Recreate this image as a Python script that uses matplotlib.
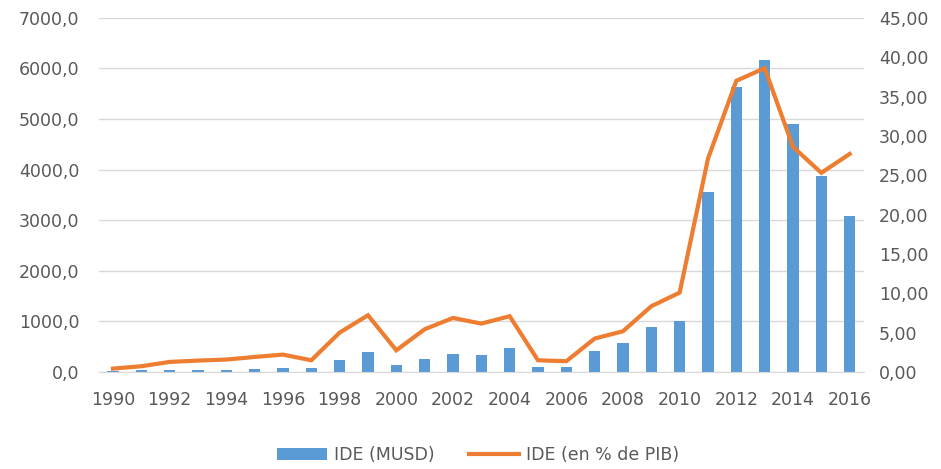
"""IDE en MUSD (barres) et en % du PIB (courbe), 1990-2016."""

import matplotlib
matplotlib.use("Agg")
import matplotlib.pyplot as plt
from matplotlib.ticker import FuncFormatter
from matplotlib.patches import Patch
from matplotlib.lines import Line2D
import numpy as np

years = list(range(1990, 2017))
ide_musd = [
    20, 33, 30, 30, 30, 50, 80, 80, 230, 388,
    132, 257, 362, 329, 480, 99, 99, 408, 579, 888,
    1007, 3566, 5638, 6164, 4901, 3868, 3086,
]
ide_pct_pib = [
    0.42, 0.72, 1.27, 1.44, 1.57, 1.90, 2.20, 1.48, 5.00, 7.20,
    2.75, 5.42, 6.86, 6.14, 7.08, 1.48, 1.36, 4.24, 5.17, 8.35,
    10.08, 27.1, 37.0, 38.6, 28.6, 25.3, 27.7,
]

BLUE = "#5B9BD5"
ORANGE = "#ED7D31"
GREY_TEXT = "#595959"
GRID = "#D9D9D9"

plt.rcParams.update({"font.family": "DejaVu Sans", "font.size": 12})

fig = plt.figure(figsize=(9.41, 4.69), dpi=100)
ax = fig.add_axes([0.105, 0.207, 0.813, 0.755])
x = np.arange(len(years))

ax.bar(x, ide_musd, width=0.4, color=BLUE, zorder=2)
ax.set_xlim(-0.5, len(years) - 0.5)
ax.set_ylim(0, 7000)
ax.set_yticks(np.arange(0, 7001, 1000))
ax.yaxis.set_major_formatter(FuncFormatter(lambda v, _: f"{v:.1f}".replace(".", ",")))
ax.set_xticks(x[::2])
ax.set_xticklabels([str(y) for y in years[::2]])
ax.grid(axis="y", color=GRID, linewidth=1, zorder=0)
ax.set_axisbelow(True)
for side in ["top", "left", "right"]:
    ax.spines[side].set_visible(False)
ax.spines["bottom"].set_color(GRID)
ax.tick_params(length=0, colors=GREY_TEXT, labelsize=12.5)
ax.tick_params(axis="x", pad=14)
ax.tick_params(axis="y", pad=14)

ax2 = ax.twinx()
ax2.plot(x, ide_pct_pib, color=ORANGE, linewidth=3, solid_joinstyle="miter", zorder=3)
ax2.set_ylim(0, 45)
ax2.set_yticks(np.arange(0, 46, 5))
ax2.yaxis.set_major_formatter(FuncFormatter(lambda v, _: f"{v:.2f}".replace(".", ",")))
for side in ["top", "left", "right", "bottom"]:
    ax2.spines[side].set_visible(False)
ax2.tick_params(length=0, colors=GREY_TEXT, labelsize=12.5, pad=11)

handles = [
    Patch(facecolor=BLUE, label="IDE (MUSD)"),
    Line2D([0], [0], color=ORANGE, linewidth=3, label="IDE (en % de PIB)"),
]
fig.legend(
    handles=handles,
    loc="center",
    bbox_to_anchor=(0.508, 0.03),
    ncol=2,
    frameon=False,
    fontsize=12.5,
    labelcolor=GREY_TEXT,
    handlelength=2.9,
    handletextpad=0.4,
    columnspacing=2.0,
)

fig.savefig("out.png", dpi=100)
